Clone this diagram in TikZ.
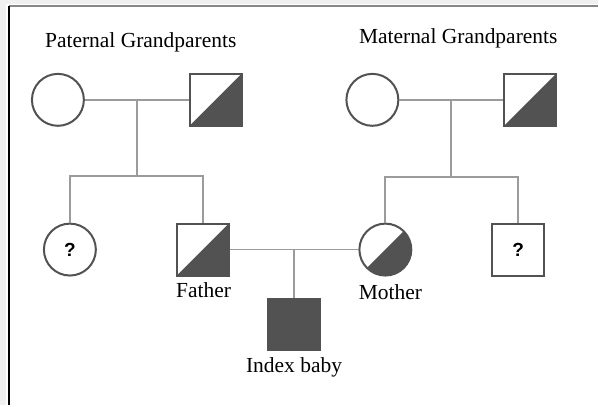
\documentclass[tikz,border=0pt]{standalone}
\usepackage{fontspec}
\setmainfont{Liberation Serif}
\newfontfamily\qmarkfont{Liberation Sans}
\usepackage{tikz}
\usetikzlibrary{positioning,calc}
\definecolor{symgray}{RGB}{82,82,82}
\definecolor{linegray}{RGB}{155,155,155}
\definecolor{pagegray}{RGB}{240,240,240}
\definecolor{edgegray}{RGB}{135,135,135}
\tikzset{male/.style={rectangle, draw=symgray, line width=2pt, fill=white, minimum size=52pt, inner sep=0pt}, female/.style={circle, draw=symgray, line width=2pt, fill=white, minimum size=52pt, inner sep=0pt}, carrier/.style={path picture={\fill[symgray] (path picture bounding box.south west) -- (path picture bounding box.south east) -- (path picture bounding box.north east) -- cycle;}}, affected/.style={male, fill=symgray}, qmark/.style={font=\qmarkfont\bfseries\fontsize{19}{21}\selectfont}, link/.style={draw=linegray, line width=1.8pt}, lbl/.style={font=\fontsize{21.5}{25}\selectfont, inner sep=0pt}}

\begin{document}
\begin{tikzpicture}[x=1pt, y=-1pt, node distance=104pt]
\fill[pagegray] (0,0) rectangle (599,406);
\fill[white] (6,4) rectangle (599,406);
\draw[edgegray, line width=2pt] (9,6.5) -- (599,6.5);
\draw[black, line width=2pt] (9.5,6) -- (9.5,406);
\useasboundingbox (0,0) rectangle (599,406);
\node[female] (pgm) at (58,100) {};
\node[male, carrier, right=of pgm] (pgf) {};
\node[female, right=103pt of pgf] (mgm) {};
\node[male, carrier, right=of mgm] (mgf) {};
\node[female, qmark, below=96pt of pgm, xshift=12pt] (aunt) {?};
\node[male, carrier, right=79pt of aunt] (father) {};
\node[female, carrier, right=129pt of father] (mother) {};
\node[male, qmark, right=79pt of mother] (uncle) {?};
\coordinate (pm) at ($(pgm.east)!0.5!(pgf.west)$);
\coordinate (psib) at ($(pm)+(0,76)$);
\coordinate (mm) at ($(mgm.east)!0.5!(mgf.west)$);
\coordinate (msib) at ($(mm)+(0,77)$);
\coordinate (cpl) at ($(father.east)!0.5!(mother.west)$);
\node[affected, below=48pt of cpl] (baby) {};
\draw[link] (pgm) -- (pgf);
\draw[link] (pm) -- (psib);
\draw[link] (aunt) |- (psib) -| (father);
\draw[link] (mgm) -- (mgf);
\draw[link] (mm) -- (msib);
\draw[link] (mother) |- (msib) -| (uncle);
\draw[link] (father) -- (mother);
\draw[link] (cpl) -- (baby);
\node[lbl, below=6pt of father, xshift=1pt] (fatherlbl) {Father};
\node[lbl, below=8pt of mother, xshift=5pt] (motherlbl) {Mother};
\node[lbl, below=6pt of baby] (babylbl) {Index baby};
\node[lbl, above=48pt of pm, xshift=4pt] (pathead) {Paternal Grandparents};
\node[lbl, above=52pt of mm, xshift=7pt] (mathead) {Maternal Grandparents};
\end{tikzpicture}
\end{document}
